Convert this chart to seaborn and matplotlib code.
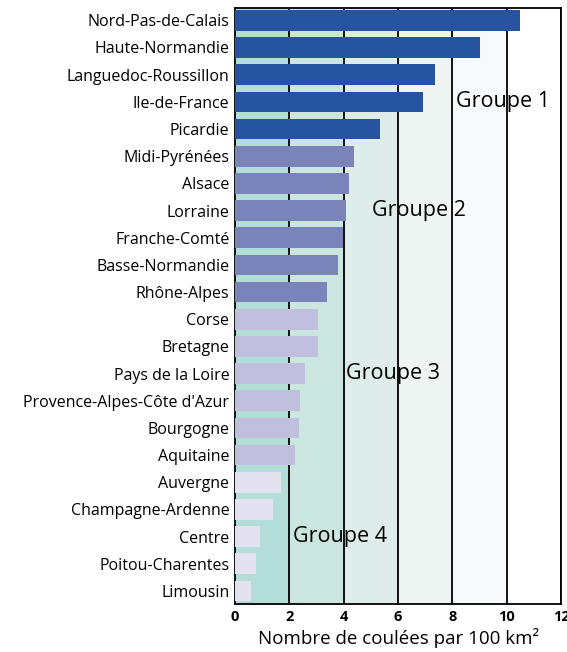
import pandas as pd
import matplotlib.pyplot as plt
import seaborn as sns

# Data
regions = ["Nord-Pas-de-Calais", "Haute-Normandie", "Languedoc-Roussillon", "Ile-de-France",
           "Picardie", "Midi-Pyrénées", "Alsace", "Lorraine", "Franche-Comté",
           "Basse-Normandie", "Rhône-Alpes", "Corse", "Bretagne", "Pays de la Loire",
           "Provence-Alpes-Côte d'Azur", "Bourgogne", "Aquitaine", "Auvergne",
           "Champagne-Ardenne", "Centre", "Poitou-Charentes", "Limousin"]
values = [10.5, 9.0, 7.37, 6.91, 5.32, 4.38, 4.18, 4.07, 3.96, 3.78, 3.39,
          3.05, 3.05, 2.58, 2.40, 2.36, 2.21, 1.68, 1.39, 0.92, 0.76, 0.58]
groups = ["Groupe 1"] * 5 + ["Groupe 2"] * 6 + ["Groupe 3"] * 6 + ["Groupe 4"] * 5
group_colors = {"Groupe 1": "#2654a0", "Groupe 2": "#7a84bb",
                "Groupe 3": "#c0c0de", "Groupe 4": "#e4e2f0"}
band_colors = ["#b3ddd7", "#cbe6df", "#deedea", "#eef5f3", "#f7fafa", "#ffffff"]
x_ticks = [0, 2, 4, 6, 8, 10, 12]

df = pd.DataFrame({"region": regions, "value": values, "group": groups})

sns.set_style("white")
plt.rcParams["font.family"] = ["Open Sans", "DejaVu Sans"]
plt.rcParams["text.color"] = "black"
plt.rcParams["xtick.color"] = "black"
plt.rcParams["ytick.color"] = "black"
plt.rcParams["axes.labelcolor"] = "black"

fig = plt.figure(figsize=(5.67, 6.52), dpi=100)
ax = fig.add_axes([0.4145, 0.0736, 0.575, 0.914])

# Background bands between gridlines
for i, c in enumerate(band_colors):
    ax.axvspan(x_ticks[i], x_ticks[i + 1], color=c, zorder=0, lw=0)
for x in x_ticks[1:]:
    ax.axvline(x, color="black", lw=1.3, zorder=1)

sns.barplot(data=df, x="value", y="region", hue="group", palette=group_colors,
            dodge=False, legend=False, width=0.76, orient="h", ax=ax,
            saturation=1, linewidth=0)
# bars above the gridlines
for cont in ax.containers:
    for bar in cont:
        bar.set_zorder(2)

ax.set_xlim(0, 12)
ax.set_ylim(21.48, -0.45)
ax.set_xticks(x_ticks)
ax.set_xticklabels([str(t) for t in x_ticks], fontweight="bold", fontsize=10.5)
ax.tick_params(axis="x", direction="in", length=4, width=2, pad=4)
ax.tick_params(axis="y", length=0, labelsize=11.5, pad=4)
ax.set_ylabel("")
ax.set_xlabel("Nombre de coulées par 100 km²", fontsize=13.5, labelpad=3)

for s in ax.spines.values():
    s.set_color("black")
    s.set_linewidth(1.3)
ax.spines["left"].set_zorder(1)

# Group labels
ax.text(8.15, 3, "Groupe 1", fontsize=15.5, va="center", zorder=3)
ax.text(5.06, 7, "Groupe 2", fontsize=15.5, va="center", zorder=3)
ax.text(4.07, 13, "Groupe 3", fontsize=15.5, va="center", zorder=3)
ax.text(2.13, 19, "Groupe 4", fontsize=15.5, va="center", zorder=3)

fig.savefig("out.png", dpi=100)
